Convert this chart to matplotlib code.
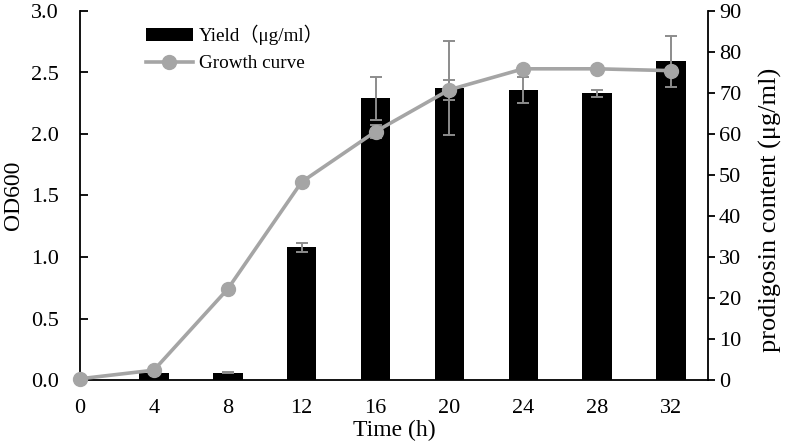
import matplotlib
matplotlib.use("Agg")
import matplotlib.pyplot as plt
import numpy as np

plt.rcParams['font.family'] = ['Liberation Serif', 'Noto Sans CJK SC', 'DejaVu Sans']

time_h = [0, 4, 8, 12, 16, 20, 24, 28, 32]
od600 = [0.01, 0.08, 0.74, 1.61, 2.02, 2.36, 2.53, 2.53, 2.515]
od600_err = [0, 0, 0, 0, 0.05, 0.08, 0, 0, 0]
yield_time = [4, 8, 12, 16, 20, 24, 28, 32]
yield_ugml = [1.6, 1.8, 32.4, 68.7, 71.3, 70.7, 69.9, 77.7]
yield_err = [0, 0.2, 1.1, 5.2, 11.5, 3.2, 0.9, 6.3]

fig = plt.figure(figsize=(7.87, 4.48), dpi=100)
ax = fig.add_axes([80/787, 1-380/448, (708-80)/787, (380-11)/448])
ax2 = ax.twinx()

ax2.bar(yield_time, yield_ugml, width=1.6, color='black', zorder=2,
        label='Yield（μg/ml）')
ax2.errorbar(yield_time, yield_ugml, yerr=yield_err, fmt='none', ecolor='#8c8c8c',
             elinewidth=1.4, capsize=4, capthick=1.4, zorder=3)

ax.errorbar(time_h, od600, yerr=od600_err, fmt='none', ecolor='#8c8c8c',
            elinewidth=1.4, capsize=4, capthick=1.4, zorder=3)
ax.plot(time_h, od600, color='#a5a5a5', lw=2.6, marker='o', markersize=10,
        markerfacecolor='#a5a5a5', markeredgecolor='#a5a5a5', zorder=4,
        label='Growth curve', clip_on=False)

ax.set_zorder(ax2.get_zorder() + 1)
ax.patch.set_visible(False)

ax.set_xlim(0, 34)
ax.set_ylim(0, 3.0)
ax2.set_ylim(0, 90)
ax.set_xticks(time_h)
ax.set_xticklabels([str(t) for t in time_h])
ax.set_yticks(np.arange(0, 3.01, 0.5))
ax.set_yticklabels([f"{v:.1f}" for v in np.arange(0, 3.01, 0.5)])
ax2.set_yticks(range(0, 91, 10))

for a in (ax, ax2):
    a.spines['top'].set_visible(False)
    for s in a.spines.values():
        s.set_linewidth(1.3)
ax.spines['right'].set_visible(False)
ax2.spines['left'].set_visible(False)
ax2.spines['bottom'].set_visible(False)

ax.tick_params(axis='y', direction='in', length=6, width=1.3, labelsize=16, pad=15)
ax.tick_params(axis='x', length=0, labelsize=16, pad=14)
ax2.tick_params(axis='y', direction='out', length=5, width=1.3, labelsize=16, pad=3)

ax.set_xlabel('Time (h)', fontsize=17, labelpad=1)
ax.set_ylabel('OD600', fontsize=17, labelpad=5)
ax2.set_ylabel('prodigosin content (μg/ml)', fontsize=19)
ax2.yaxis.set_label_coords(1.081, 0.462)

h1, l1 = ax2.get_legend_handles_labels()
h2, l2 = ax.get_legend_handles_labels()
fig.legend(h1 + h2, l1 + l2, loc='upper left', bbox_to_anchor=(146/787, 1-25/448),
           frameon=False, fontsize=13.8, handlelength=2.45, handletextpad=0.3,
           labelspacing=0.5, borderpad=0, borderaxespad=0)

fig.savefig('out.png', dpi=100)
